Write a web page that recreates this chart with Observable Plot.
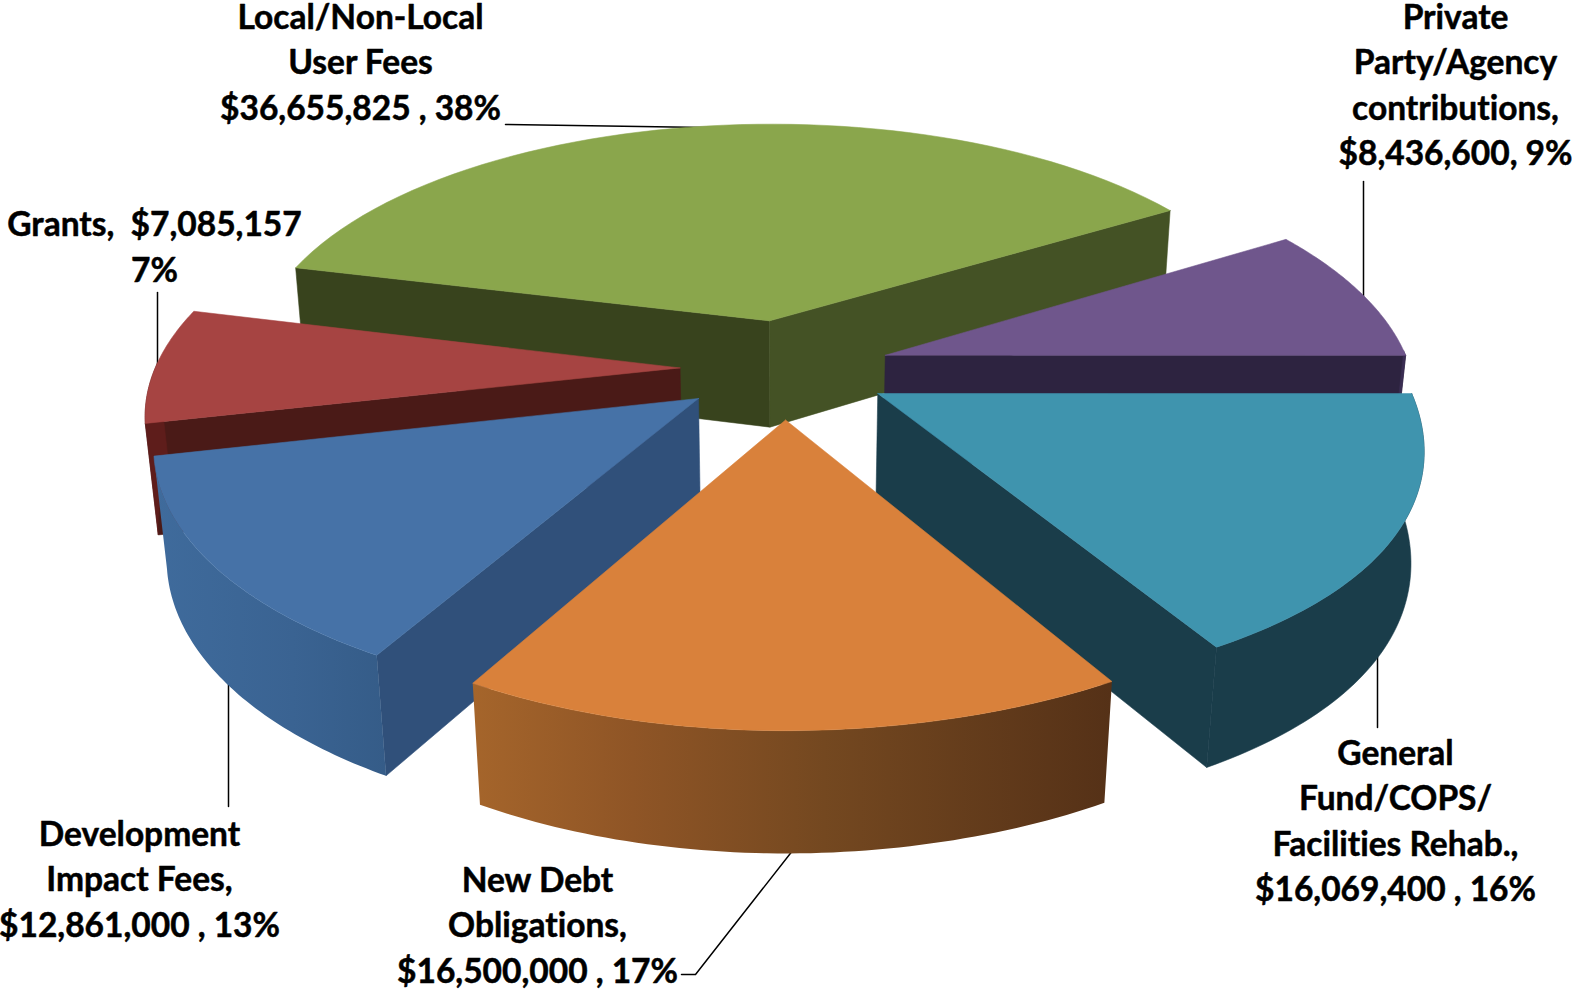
<!DOCTYPE html>
<html>
<head>
<meta charset="utf-8">
<style>html,body{margin:0;padding:0;background:#fff}svg{display:block}svg text{font-variant-ligatures:none}</style>
<script src="https://cdn.jsdelivr.net/npm/d3@7"></script>
<script src="https://cdn.jsdelivr.net/npm/@observablehq/plot@0.6"></script>
</head>
<body>
<div id="chart"></div>
<script>
// Data, clockwise from the Private Party slice
const names = ["Private Party/Agency contributions","General Fund/COPS/Facilities Rehab.","New Debt Obligations","Development Impact Fees","Grants","Local/Non-Local User Fees"];
const amounts = [8436600,16069400,16500000,12861000,7085157,36655825];
const labelTexts = [
  "Private\nParty/Agency\ncontributions,\n$8,436,600, 9%",
  "General\nFund/COPS/\nFacilities Rehab.,\n$16,069,400 , 16%",
  "New Debt\nObligations,\n$16,500,000 , 17%",
  "Development\nImpact Fees,\n$12,861,000 , 13%",
  "Grants,  $7,085,157\n7%",
  "Local/Non-Local\nUser Fees\n$36,655,825 , 38%"
];
const topColors = ["#6f568c","#3f94ae","#d9813b","#4672a7","#a64442","#8aa64c"];
const outerColors = ["#3a2d52","#1a3d4a","url(#orangeWall)","url(#blueWall)","#5e1d1b","#445225"];
const startWallColors = ["#2d2340","#1a3d4a","#8a5225","#30507a","#4a1a17","#38431d"];
const endWallColors = ["#2d2340","#1a3d4a","#8a5225","#30507a","#4a1a17","#445225"];

// Layout of the view
const W = 1572, H = 989;
const view = {cx: 784.5, cy: 368, rx: 525, ry: 249, depth: 111, k: 0.165, c: 0.016, m: 0.02, q: 0.045, explode: 0.2};
const startDeg = 58.9;
const drawOrder = [5, 0, 4, 3, 1, 2];
const labelX = [1455, 1395, 537, 139, 154, 360];
const labelY = [82, 818, 922, 876, 244, 59];
const leaders = [
  [[1363,181],[1363,310]],
  [[1377,600],[1377,727]],
  [[800,840],[695,974],[681,974]],
  [[228,640],[228,806]],
  [[157,292],[157,385]],
  [[505,124],[705,127],[705,140]]
];

const project = (u, v, z) => {
  const w = 1 - view.k * v + view.c * v * v + view.m * z;
  const spread = 1 + view.q * Math.max(u, 0) * Math.max(v, 0) ** 2;
  return [view.cx + view.rx * u * spread / w, view.cy + (view.ry * v + view.depth * z) / w];
};
const arcs = d3.pie().sort(null).startAngle(startDeg * Math.PI / 180).endAngle((startDeg + 360) * Math.PI / 180)(amounts);

const marks = [() => {
  const svg = d3.create("svg:g");
  const defs = svg.append("defs");
  const grad = (id, stops) => {
    const g = defs.append("linearGradient").attr("id", id).attr("x1", 0).attr("x2", 1).attr("y1", 0).attr("y2", 0);
    stops.forEach(([o, c]) => g.append("stop").attr("offset", o).attr("stop-color", c));
  };
  grad("orangeWall", [[0, "#a5652b"], [0.25, "#8f5526"], [0.55, "#744820"], [1, "#553117"]]);
  grad("blueWall", [[0, "#3f6b9c"], [0.6, "#3a6392"], [1, "#355c88"]]);
  return svg.node();
}];

// Leader lines sit under the slices, so each one stops at the slice's edge
leaders.forEach(l => marks.push(Plot.line(l, {x: d => d[0], y: d => d[1], stroke: "#000", strokeWidth: 1.5})));

const area2 = p => d3.range(p.length).reduce((s, i) => { const a = p[i], b = p[(i + 1) % p.length]; return s + a[0] * b[1] - b[0] * a[1]; }, 0);
const face = (pts, fill, stroke) => Plot.line([...pts, pts[0]], {x: d => d[0], y: d => d[1], fill, stroke, strokeWidth: 1, strokeOpacity: 0.55, curve: "linear"});

for (const i of drawOrder) {
  const a = arcs[i];
  const mid = (a.startAngle + a.endAngle) / 2;
  const ou = view.explode * Math.sin(mid), ov = -view.explode * Math.cos(mid);
  const pt = (t, r, z) => project(ou + r * Math.sin(t), ov - r * Math.cos(t), z);
  const ts = d3.range(61).map(j => a.startAngle + (a.endAngle - a.startAngle) * j / 60);
  const wall = (p, q) => [p(0), q(0), q(1), p(1)];
  const corner = t => z => pt(t, 1, z), apex = z => pt(0, 0, z);
  const start = wall(apex, corner(a.startAngle));
  const end = wall(corner(a.endAngle), apex);
  // outer wall: only the part of the rim that faces the viewer
  const front = ts.filter(t => Math.cos(t) < 0.02);
  if (area2(start) < 0) marks.push(face(start, startWallColors[i], startWallColors[i]));
  if (area2(end) < 0) marks.push(face(end, endWallColors[i], endWallColors[i]));
  if (front.length > 1) {
    const stroke = outerColors[i].startsWith("url") ? "none" : outerColors[i];
    marks.push(face([...front.map(t => pt(t, 1, 0)), ...front.slice().reverse().map(t => pt(t, 1, 1))], outerColors[i], stroke));
  }
  marks.push(face([apex(0), ...ts.map(t => pt(t, 1, 0))], topColors[i], topColors[i]));
}

marks.push(Plot.text(labelTexts.map((t, i) => ({t, x: labelX[i], y: labelY[i]})), {
  x: "x", y: "y", text: "t", textAnchor: "middle", lineAnchor: "middle", lineHeight: 1.36,
  fontFamily: "Lato, 'Open Sans', sans-serif", fontWeight: 700, fontSize: 33.5, fill: "#000", stroke: "#000", strokeWidth: 0.5
}));

const chart = Plot.plot({
  width: W, height: H, margin: 0,
  x: {domain: [0, W], range: [0, W], axis: null},
  y: {domain: [0, H], range: [0, H], axis: null},
  marks
});
document.getElementById("chart").appendChild(chart);
</script>
</body>
</html>
